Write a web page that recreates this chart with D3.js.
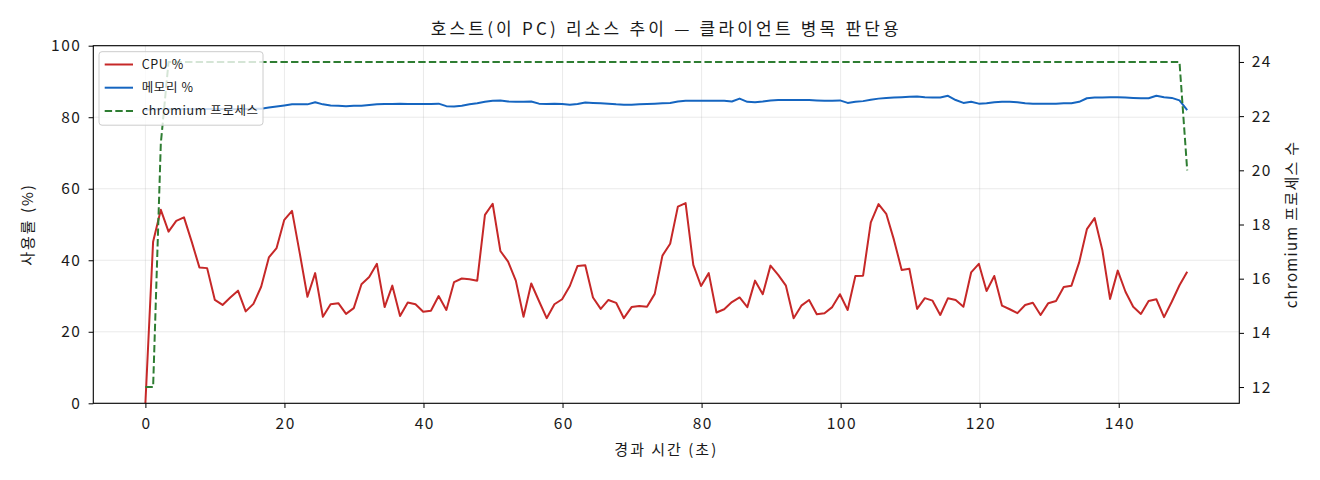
<!DOCTYPE html>
<html>
<head>
<meta charset="utf-8">
<script src="https://cdn.jsdelivr.net/npm/d3@7"></script>
<style>
  body { margin: 0; background: #fff; }
  text { font-family: "Noto Sans CJK KR", "Noto Sans", sans-serif; fill: #1a1a1a; }
</style>
</head>
<body>
<div id="chart"></div>
<script>
// elapsed seconds for each sample
const times = [
  0, 1.11, 2.22, 3.33, 4.44, 5.55, 6.66, 7.77, 8.88, 9.99,
  11.1, 12.21, 13.32, 14.43, 15.54, 16.65, 17.76, 18.87, 19.98, 21.09,
  22.2, 23.31, 24.42, 25.53, 26.64, 27.75, 28.86, 29.97, 31.08, 32.19,
  33.3, 34.41, 35.52, 36.63, 37.74, 38.85, 39.96, 41.07, 42.18, 43.29,
  44.4, 45.51, 46.62, 47.73, 48.84, 49.95, 51.06, 52.17, 53.28, 54.39,
  55.5, 56.61, 57.72, 58.83, 59.94, 61.05, 62.16, 63.27, 64.38, 65.49,
  66.6, 67.71, 68.82, 69.93, 71.04, 72.15, 73.26, 74.37, 75.48, 76.59,
  77.7, 78.81, 79.92, 81.03, 82.14, 83.25, 84.36, 85.47, 86.58, 87.69,
  88.8, 89.91, 91.02, 92.13, 93.24, 94.35, 95.46, 96.57, 97.68, 98.79,
  99.9, 101.01, 102.12, 103.23, 104.34, 105.45, 106.56, 107.67, 108.78, 109.89,
  111, 112.11, 113.22, 114.33, 115.44, 116.55, 117.66, 118.77, 119.88, 120.99,
  122.1, 123.21, 124.32, 125.43, 126.54, 127.65, 128.76, 129.87, 130.98, 132.09,
  133.2, 134.31, 135.42, 136.53, 137.64, 138.75, 139.86, 140.97, 142.08, 143.19,
  144.3, 145.41, 146.52, 147.63, 148.74, 149.85
];

const cpu = [
  0, 45.2, 54.1, 48.0, 51.0, 52.0, 45.2, 38.0, 37.8, 28.9,
  27.5, 29.6, 31.5, 25.7, 27.8, 32.6, 40.8, 43.4, 51.3, 53.8,
  42.0, 29.8, 36.4, 24.2, 27.7, 28.0, 25.0, 26.6, 33.3, 35.3,
  39.0, 26.9, 32.9, 24.4, 28.2, 27.7, 25.6, 25.9, 30.0, 26.1,
  33.9, 34.9, 34.7, 34.3, 52.7, 55.8, 42.6, 39.6, 34.3, 24.2,
  33.5, 28.6, 23.8, 27.7, 29.1, 32.8, 38.4, 38.6, 29.6, 26.4,
  28.9, 28.1, 23.8, 26.9, 27.2, 27.0, 30.6, 41.3, 44.6, 55.0,
  56.0, 38.7, 32.8, 36.4, 25.4, 26.3, 28.3, 29.6, 26.9, 34.3,
  30.5, 38.5, 35.9, 32.9, 23.8, 27.3, 28.9, 24.9, 25.2, 26.9,
  30.5, 26.1, 35.6, 35.7, 50.6, 55.7, 53.0, 45.7, 37.3, 37.6,
  26.4, 29.4, 28.7, 24.7, 29.4, 28.9, 27.0, 36.6, 39.0, 31.4,
  35.6, 27.3, 26.3, 25.2, 27.5, 28.1, 24.7, 28.0, 28.6, 32.5,
  32.9, 39.4, 48.7, 51.8, 42.9, 29.2, 37.1, 31.2, 27.0, 25.0,
  28.6, 29.1, 24.1, 28.4, 33.0, 36.8
];

const memory = [
  82.0, 82.2, 82.3, 82.3, 82.2, 82.3, 82.3, 82.2, 82.3, 82.3,
  82.3, 82.2, 82.3, 82.3, 82.4, 82.4, 82.7, 83.0, 83.3, 83.6,
  83.6, 83.6, 84.2, 83.6, 83.3, 83.2, 83.1, 83.2, 83.2, 83.4,
  83.6, 83.7, 83.7, 83.8, 83.7, 83.7, 83.7, 83.7, 83.8, 83.1,
  83.0, 83.2, 83.6, 83.9, 84.3, 84.6, 84.7, 84.4, 84.3, 84.3,
  84.4, 83.8, 83.7, 83.8, 83.7, 83.5, 83.7, 84.1, 84.0, 83.9,
  83.8, 83.6, 83.5, 83.5, 83.6, 83.7, 83.8, 83.9, 84.0, 84.4,
  84.6, 84.6, 84.6, 84.6, 84.6, 84.6, 84.4, 85.2, 84.3, 84.2,
  84.4, 84.7, 84.8, 84.8, 84.8, 84.8, 84.8, 84.7, 84.6, 84.6,
  84.7, 84.0, 84.3, 84.5, 84.9, 85.2, 85.4, 85.5, 85.6, 85.7,
  85.8, 85.6, 85.5, 85.5, 86.0, 84.8, 84.0, 84.3, 83.8, 83.9,
  84.2, 84.3, 84.3, 84.2, 83.9, 83.8, 83.8, 83.8, 83.8, 83.9,
  83.9, 84.3, 85.3, 85.5, 85.5, 85.6, 85.6, 85.5, 85.4, 85.3,
  85.3, 86.0, 85.6, 85.4, 84.7, 82.0
];

const chromium = [
  12, 12, 21,
  24, 24, 24, 24, 24, 24, 24, 24, 24, 24, 24, 24,
  24, 24, 24, 24, 24, 24, 24, 24, 24, 24, 24, 24,
  24, 24, 24, 24, 24, 24, 24, 24, 24, 24, 24, 24,
  24, 24, 24, 24, 24, 24, 24, 24, 24, 24, 24, 24,
  24, 24, 24, 24, 24, 24, 24, 24, 24, 24, 24, 24,
  24, 24, 24, 24, 24, 24, 24, 24, 24, 24, 24, 24,
  24, 24, 24, 24, 24, 24, 24, 24, 24, 24, 24, 24,
  24, 24, 24, 24, 24, 24, 24, 24, 24, 24, 24, 24,
  24, 24, 24, 24, 24, 24, 24, 24, 24, 24, 24, 24,
  24, 24, 24, 24, 24, 24, 24, 24, 24, 24, 24, 24,
  24, 24, 24, 24, 24, 24, 24, 24, 24, 24, 24, 24,
  20
];

const xTicks = [0, 20, 40, 60, 80, 100, 120, 140];
const leftTicks = [0, 20, 40, 60, 80, 100];
const rightTicks = [12, 14, 16, 18, 20, 22, 24];

const titleText = "호스트(이 PC) 리소스 추이 — 클라이언트 병목 판단용";
const seriesNames = ["CPU %", "메모리 %", "chromium 프로세스"];

const W = 1320, H = 480;
const box = { left: 93.3, right: 1239.3, top: 45.7, bottom: 403.3 };

const svg = d3.select("#chart").append("svg")
  .attr("width", W).attr("height", H);

// scales (matplotlib-like 5% margins on x and the right axis)
const tMax = d3.max(times);
const x = d3.scaleLinear().domain([-tMax * 0.05, tMax * 1.05]).range([box.left, box.right]);
const yL = d3.scaleLinear().domain([0, 100]).range([box.bottom, box.top]);
const yR = d3.scaleLinear().domain([11.4, 24.6]).range([box.bottom, box.top]);

// grid
const grid = svg.append("g").attr("stroke", "#b0b0b0").attr("stroke-opacity", 0.3).attr("stroke-width", 0.9);
grid.selectAll(".gx").data(xTicks).enter().append("line")
  .attr("x1", d => x(d)).attr("x2", d => x(d))
  .attr("y1", box.top).attr("y2", box.bottom);
grid.selectAll(".gy").data(leftTicks).enter().append("line")
  .attr("x1", box.left).attr("x2", box.right)
  .attr("y1", d => yL(d)).attr("y2", d => yL(d));

svg.append("clipPath").attr("id", "clip")
  .append("rect").attr("x", box.left).attr("y", box.top)
  .attr("width", box.right - box.left).attr("height", box.bottom - box.top);

const plot = svg.append("g").attr("clip-path", "url(#clip)");

const leftLine = d3.line().x((d, i) => x(times[i])).y(d => yL(d));
const rightLine = d3.line().x((d, i) => x(times[i])).y(d => yR(d));

plot.append("path").datum(cpu).attr("d", leftLine)
  .attr("fill", "none").attr("stroke", "#c62828").attr("stroke-width", 2)
  .attr("stroke-linejoin", "round");
plot.append("path").datum(memory).attr("d", leftLine)
  .attr("fill", "none").attr("stroke", "#1565c0").attr("stroke-width", 2)
  .attr("stroke-linejoin", "round");

// legend (belongs to the left axes, so the twin-axis line goes over it)
const colors = ["#c62828", "#1565c0", "#2e7d32"];
const leg = svg.append("g").attr("transform", "translate(99,51.7)");
leg.append("rect").attr("width", 164).attr("height", 73.5).attr("rx", 3)
  .attr("fill", "#fff").attr("fill-opacity", 0.8)
  .attr("stroke", "#cccccc").attr("stroke-width", 1);
seriesNames.forEach((name, i) => {
  const yy = 12.8 + i * 23.2;
  leg.append("line").attr("x1", 5.7).attr("x2", 34).attr("y1", yy).attr("y2", yy)
    .attr("stroke", colors[i]).attr("stroke-width", 2)
    .attr("stroke-dasharray", i === 2 ? "7.4,3.2" : null);
  leg.append("text").attr("x", 42.7).attr("y", yy).attr("dy", "0.35em")
    .attr("font-size", 12.5).attr("letter-spacing", 0.6).text(name);
});

plot.append("path").datum(chromium).attr("d", rightLine)
  .attr("fill", "none").attr("stroke", "#2e7d32").attr("stroke-width", 2)
  .attr("stroke-dasharray", "7.4,3.2").attr("stroke-linejoin", "round");

// axes
const xAxis = svg.append("g").attr("transform", `translate(0,${box.bottom})`)
  .call(d3.axisBottom(x).tickValues(xTicks).tickSize(4.7).tickPadding(9.5));
const lAxis = svg.append("g").attr("transform", `translate(${box.left},0)`)
  .call(d3.axisLeft(yL).tickValues(leftTicks).tickSize(4.7).tickPadding(7.2));
const rAxis = svg.append("g").attr("transform", `translate(${box.right},0)`)
  .call(d3.axisRight(yR).tickValues(rightTicks).tickSize(4.7).tickPadding(7.7));
[xAxis, lAxis, rAxis].forEach(a => {
  a.select(".domain").remove();
  a.selectAll(".tick line").attr("stroke", "#000").attr("stroke-width", 1);
  a.selectAll(".tick text").attr("font-size", 15.5)
    .attr("font-family", "'DejaVu Sans', sans-serif").attr("letter-spacing", 1.5)
    .attr("fill", "#1a1a1a");
});
xAxis.selectAll(".tick text").attr("dx", 0.75);

// frame
svg.append("rect").attr("x", box.left).attr("y", box.top)
  .attr("width", box.right - box.left).attr("height", box.bottom - box.top)
  .attr("fill", "none").attr("stroke", "#000").attr("stroke-width", 1.1);

// labels
const midX = (box.left + box.right) / 2, midY = (box.top + box.bottom) / 2;
svg.append("text").attr("x", midX).attr("y", 35)
  .attr("text-anchor", "middle").attr("font-size", 17).attr("letter-spacing", 3.2)
  .text(titleText);
svg.append("text").attr("x", midX).attr("y", 455)
  .attr("text-anchor", "middle").attr("font-size", 15).attr("letter-spacing", 2)
  .text("경과 시간 (초)");
svg.append("text")
  .attr("transform", `translate(33,${midY}) rotate(-90)`)
  .attr("text-anchor", "middle").attr("font-size", 15).attr("letter-spacing", 2)
  .text("사용률 (%)");
svg.append("text")
  .attr("transform", `translate(1297,${midY}) rotate(-90)`)
  .attr("text-anchor", "middle").attr("font-size", 15).attr("letter-spacing", 1.3)
  .text("chromium 프로세스 수");
</script>
</body>
</html>
